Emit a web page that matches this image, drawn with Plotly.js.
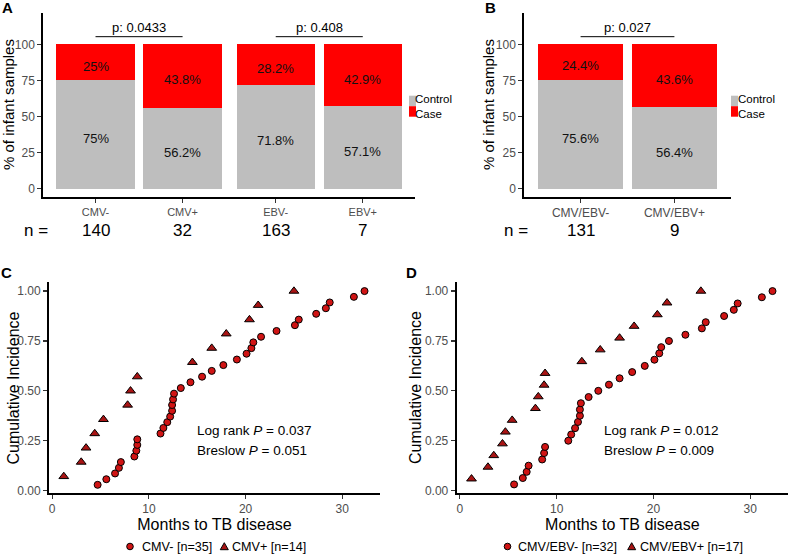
<!DOCTYPE html>
<html>
<head>
<meta charset="utf-8">
<script src="https://cdn.plot.ly/plotly-3.0.1.min.js"></script>
<style>html,body{margin:0;padding:0;background:#fff;}#chart{width:789px;height:554px;}</style>
</head>
<body>
<div id="chart"></div>
<script>
// ---------- DATA ----------
const catsA = ['CMV-', 'CMV+', 'EBV-', 'EBV+'];
const controlA = [75, 56.2, 71.8, 57.1];
const caseA = [25, 43.8, 28.2, 42.9];
const nA = [140, 32, 163, 7];
const pA = ['0.0433', '0.408'];

const catsB = ['CMV/EBV-', 'CMV/EBV+'];
const controlB = [75.6, 56.4];
const caseB = [24.4, 43.6];
const nB = [131, 9];
const pB = ['0.027'];

const groupNames = ['Control', 'Case'];

// Panel C: CMV- (n=35) and CMV+ (n=14)
const cNegMonths = [4.7, 5.6, 6.5, 6.9, 7.1, 8.5, 8.7, 8.8, 8.8, 11.2, 11.5, 11.9, 12.2, 12.4, 12.4, 12.5, 12.6, 13.3, 14.3, 15.5, 16.5, 17.7, 19.1, 20.1, 20.6, 20.8, 21.6, 23.2, 25.1, 25.5, 27.3, 28.3, 28.7, 31.2, 32.3];
const cNegCI = [0.029, 0.057, 0.086, 0.114, 0.143, 0.171, 0.2, 0.229, 0.257, 0.286, 0.314, 0.343, 0.371, 0.4, 0.429, 0.457, 0.486, 0.514, 0.543, 0.571, 0.6, 0.629, 0.657, 0.686, 0.714, 0.743, 0.771, 0.8, 0.829, 0.857, 0.886, 0.914, 0.943, 0.971, 1.0];
const cPosMonths = [1.2, 3.0, 3.5, 4.4, 5.3, 7.8, 8.1, 8.8, 14.5, 16.5, 18.0, 20.4, 21.3, 25.0];
const cPosCI = [0.071, 0.143, 0.214, 0.286, 0.357, 0.429, 0.5, 0.571, 0.643, 0.714, 0.786, 0.857, 0.929, 1.0];
const cLegend = ['CMV- [n=35]', 'CMV+ [n=14]'];
const cStats = ['0.037', '0.051'];

// Panel D: CMV/EBV- (n=32) and CMV/EBV+ (n=17)
const dNegMonths = [5.6, 6.5, 6.9, 7.1, 8.5, 8.7, 8.8, 11.2, 11.5, 11.9, 12.2, 12.4, 12.4, 12.5, 13.3, 14.3, 15.4, 16.5, 17.8, 19.1, 20.1, 20.6, 20.8, 21.6, 23.3, 25.0, 25.4, 27.3, 28.3, 28.7, 31.2, 32.3];
const dNegCI = [0.031, 0.063, 0.094, 0.125, 0.156, 0.188, 0.219, 0.25, 0.281, 0.313, 0.344, 0.375, 0.406, 0.438, 0.469, 0.5, 0.531, 0.563, 0.594, 0.625, 0.656, 0.688, 0.719, 0.75, 0.781, 0.813, 0.844, 0.875, 0.906, 0.938, 0.969, 1.0];
const dPosMonths = [1.2, 2.9, 3.5, 4.4, 4.7, 5.4, 7.8, 8.1, 8.7, 8.8, 12.6, 14.5, 16.5, 18.0, 20.4, 21.4, 24.9];
const dPosCI = [0.059, 0.118, 0.176, 0.235, 0.294, 0.353, 0.412, 0.471, 0.529, 0.588, 0.647, 0.706, 0.765, 0.824, 0.882, 0.941, 1.0];
const dLegend = ['CMV/EBV- [n=32]', 'CMV/EBV+ [n=17]'];
const dStats = ['0.012', '0.009'];

const yTitleBar = '% of infant samples';
const yTitleKM = 'Cumulative Incidence';
const xTitleKM = 'Months to TB disease';

// ---------- LAYOUT HELPERS ----------
const W = 789, H = 554;
const FONT = 'Liberation Sans, Arial, Helvetica, sans-serif';
const px = p => p / W;
const py = p => 1 - p / H;
const GREY = '#bebebe', RED = '#ff0000';
const TICKC = '#4d4d4d';
const CIRC_COL = '#d01414', TRI_COL = '#a81414';

// bar positions: second pair in panel A slightly separated
const posA = catsA.map((c, i) => i + 1 + (i >= 2 ? 0.07 : 0));
const posB = catsB.map((c, i) => i + 1);

const pct = v => v + '%';

const traces = [];
traces.push({type: 'bar', x: posA, y: controlA, name: groupNames[0], marker: {color: GREY, line: {width: 0}}, width: 0.9, xaxis: 'x', yaxis: 'y', hoverinfo: 'skip'});
traces.push({type: 'bar', x: posA, y: caseA, name: groupNames[1], marker: {color: RED, line: {width: 0}}, width: 0.9, xaxis: 'x', yaxis: 'y', hoverinfo: 'skip'});
traces.push({type: 'bar', x: posB, y: controlB, name: groupNames[0], marker: {color: GREY, line: {width: 0}}, width: 0.9, xaxis: 'x2', yaxis: 'y2', hoverinfo: 'skip'});
traces.push({type: 'bar', x: posB, y: caseB, name: groupNames[1], marker: {color: RED, line: {width: 0}}, width: 0.9, xaxis: 'x2', yaxis: 'y2', hoverinfo: 'skip'});

const circ = {symbol: 'circle', size: 7, color: CIRC_COL, line: {color: '#000', width: 1}};
const tri = {symbol: 'triangle-up', size: 8.5, color: TRI_COL, line: {color: '#000', width: 1}};
traces.push({type: 'scatter', mode: 'markers', x: cNegMonths, y: cNegCI, name: cLegend[0], marker: circ, xaxis: 'x3', yaxis: 'y3', cliponaxis: false});
traces.push({type: 'scatter', mode: 'markers', x: cPosMonths, y: cPosCI, name: cLegend[1], marker: tri, xaxis: 'x3', yaxis: 'y3', cliponaxis: false});
traces.push({type: 'scatter', mode: 'markers', x: dNegMonths, y: dNegCI, name: dLegend[0], marker: circ, xaxis: 'x4', yaxis: 'y4', cliponaxis: false});
traces.push({type: 'scatter', mode: 'markers', x: dPosMonths, y: dPosCI, name: dLegend[1], marker: tri, xaxis: 'x4', yaxis: 'y4', cliponaxis: false});

const axisBase = {
  showline: true, linecolor: '#000', linewidth: 2, mirror: false,
  ticks: 'outside', ticklen: 4, tickwidth: 1.2, tickcolor: '#333',
  showgrid: false, zeroline: false, fixedrange: true, automargin: false,
  tickfont: {family: FONT, size: 12, color: TICKC}
};
const barY = Object.assign({}, axisBase, {range: [-5.5, 121.7], tickvals: [0, 25, 50, 75, 100]});
const kmY = Object.assign({}, axisBase, {range: [-0.012, 1.047], tickvals: [0, 0.25, 0.5, 0.75, 1], tickformat: '.2f'});
const kmX = Object.assign({}, axisBase, {
  range: [-0.33, 33.9], tickvals: [0, 10, 20, 30],
  title: {text: xTitleKM, font: {family: FONT, size: 16, color: '#000'}, standoff: 1}
});

const annotations = [];
const shapes = [];
function barLabels(pos, ctrl, cs, xr, yr) {
  pos.forEach((x, i) => {
    annotations.push({xref: xr, yref: yr, x: x, y: ctrl[i] / 2, text: pct(ctrl[i]), showarrow: false, yshift: -4, font: {family: FONT, size: 13, color: '#111'}});
    annotations.push({xref: xr, yref: yr, x: x, y: ctrl[i] + cs[i] / 2, text: pct(cs[i]), showarrow: false, yshift: -4, font: {family: FONT, size: 13, color: '#111'}});
  });
}
barLabels(posA, controlA, caseA, 'x', 'y');
barLabels(posB, controlB, caseB, 'x2', 'y2');

function nRow(pos, ns, xr, labelX) {
  annotations.push({xref: 'paper', yref: 'paper', x: px(labelX), y: py(230), text: 'n =', showarrow: false, xanchor: 'center', yanchor: 'middle', font: {family: FONT, size: 17, color: '#000'}});
  pos.forEach((x, i) => annotations.push({xref: xr, yref: 'paper', x: x, y: py(230), text: String(ns[i]), showarrow: false, yanchor: 'middle', font: {family: FONT, size: 17, color: '#000'}}));
}
nRow(posA, nA, 'x', 36);
nRow(posB, nB, 'x2', 516);

function bracket(x0, x1, p, xr, yr) {
  shapes.push({type: 'line', xref: xr, yref: yr, x0: x0, x1: x1, y0: 105.3, y1: 105.3, line: {color: '#000', width: 1}});
  annotations.push({xref: xr, yref: yr, x: (x0 + x1) / 2, y: 105.3, yanchor: 'bottom', yshift: 0, text: 'p: ' + p, showarrow: false, font: {family: FONT, size: 13, color: '#000'}});
}
bracket(posA[0], posA[1], pA[0], 'x', 'y');
bracket(posA[2], posA[3], pA[1], 'x', 'y');
bracket(posB[0], posB[1], pB[0], 'x2', 'y2');

function stats(s, xLeft) {
  annotations.push({xref: 'paper', yref: 'paper', x: px(xLeft), y: py(430.7), xanchor: 'left', yanchor: 'middle', showarrow: false, text: 'Log rank <i>P</i> = ' + s[0], font: {family: FONT, size: 13.5, color: '#000'}});
  annotations.push({xref: 'paper', yref: 'paper', x: px(xLeft), y: py(450.3), xanchor: 'left', yanchor: 'middle', showarrow: false, text: 'Breslow <i>P</i> = ' + s[1], font: {family: FONT, size: 13.5, color: '#000'}});
}
stats(cStats, 195);
stats(dStats, 602);

// rotated y-axis titles
function yTitle(text, cx, cy, size) {
  annotations.push({xref: 'paper', yref: 'paper', x: px(cx), y: py(cy), xanchor: 'center', yanchor: 'middle', textangle: -90, showarrow: false, text: text, font: {family: FONT, size: size, color: '#000'}});
}
yTitle(yTitleBar, 8, 105, 15);
yTitle(yTitleBar, 488, 105, 15);
yTitle(yTitleKM, 12.5, 388, 16);
yTitle(yTitleKM, 415, 388, 16);

// bar legends (Control / Case keys), one text block so lines do not collide
function barLegend(x0) {
  const keyW = 7, top = 95.7, keyH = 10.5;
  [GREY, RED].forEach((col, i) => {
    shapes.push({type: 'rect', xref: 'paper', yref: 'paper', x0: px(x0), x1: px(x0 + keyW), y0: py(top + keyH * (i + 1)), y1: py(top + keyH * i), fillcolor: col, line: {width: 0}});
  });
  annotations.push({xref: 'paper', yref: 'paper', x: px(x0 + keyW - 1.5), y: py(top + keyH), xanchor: 'left', yanchor: 'middle', align: 'left', showarrow: false, borderpad: 0, text: groupNames.join('<br>'), font: {family: FONT, size: 11.5, color: '#000'}});
}
barLegend(409);
barLegend(731);

// scatter legends below panels C and D
function kmLegend(names, cxCirc, txt1, cxTri, txt2) {
  const cy = 546.5, r = 3.3, t = 4;
  shapes.push({type: 'circle', xref: 'paper', yref: 'paper', x0: px(cxCirc - r), x1: px(cxCirc + r), y0: py(cy + r), y1: py(cy - r), fillcolor: CIRC_COL, line: {color: '#000', width: 1}});
  const p = (x, y) => px(x).toFixed(5) + ',' + py(y).toFixed(5);
  shapes.push({type: 'path', xref: 'paper', yref: 'paper', path: 'M' + p(cxTri - t, cy + t * 0.8) + 'L' + p(cxTri + t, cy + t * 0.8) + 'L' + p(cxTri, cy - t * 0.95) + 'Z', fillcolor: TRI_COL, line: {color: '#000', width: 1}});
  [[names[0], txt1], [names[1], txt2]].forEach(a => {
    annotations.push({xref: 'paper', yref: 'paper', x: px(a[1] - 1), y: py(cy), xanchor: 'left', yanchor: 'middle', showarrow: false, text: a[0], font: {family: FONT, size: 12.6, color: '#000'}});
  });
}
kmLegend(cLegend, 130, 140.7, 224.3, 230.7);
kmLegend(dLegend, 507.5, 517, 631.7, 639.3);

[['A', 7, 8], ['B', 491, 8], ['C', 6, 272], ['D', 411, 272]].forEach(l => {
  annotations.push({xref: 'paper', yref: 'paper', x: px(l[1]), y: py(l[2]), xanchor: 'center', yanchor: 'middle', showarrow: false, text: '<b>' + l[0] + '</b>', font: {family: FONT, size: 15, color: '#000'}});
});

const layout = {
  width: W, height: H, margin: {l: 0, r: 0, t: 0, b: 0},
  paper_bgcolor: '#fff', plot_bgcolor: '#fff',
  font: {family: FONT},
  barmode: 'stack', bargap: 0,
  showlegend: false,
  xaxis: Object.assign({}, axisBase, {domain: [px(43.3), px(415)], range: [0.4, 4.67], tickvals: posA, ticktext: catsA, tickfont: {family: FONT, size: 11, color: TICKC}, anchor: 'y'}),
  yaxis: Object.assign({}, barY, {domain: [py(196.7), py(13)], anchor: 'x'}),
  xaxis2: Object.assign({}, axisBase, {domain: [px(524.3), px(730.7)], range: [0.4, 2.6], tickvals: posB, ticktext: catsB, tickfont: {family: FONT, size: 12, color: TICKC}, anchor: 'y2'}),
  yaxis2: Object.assign({}, barY, {domain: [py(196.7), py(13)], anchor: 'x2'}),
  xaxis3: Object.assign({}, kmX, {domain: [px(49), px(380)], anchor: 'y3'}),
  yaxis3: Object.assign({}, kmY, {domain: [py(493), py(281.7)], anchor: 'x3'}),
  xaxis4: Object.assign({}, kmX, {domain: [px(456.7), px(788)], anchor: 'y4'}),
  yaxis4: Object.assign({}, kmY, {domain: [py(493), py(281.7)], anchor: 'x4'}),
  annotations: annotations,
  shapes: shapes
};

Plotly.newPlot('chart', traces, layout, {displayModeBar: false, staticPlot: true});
</script>
</body>
</html>
